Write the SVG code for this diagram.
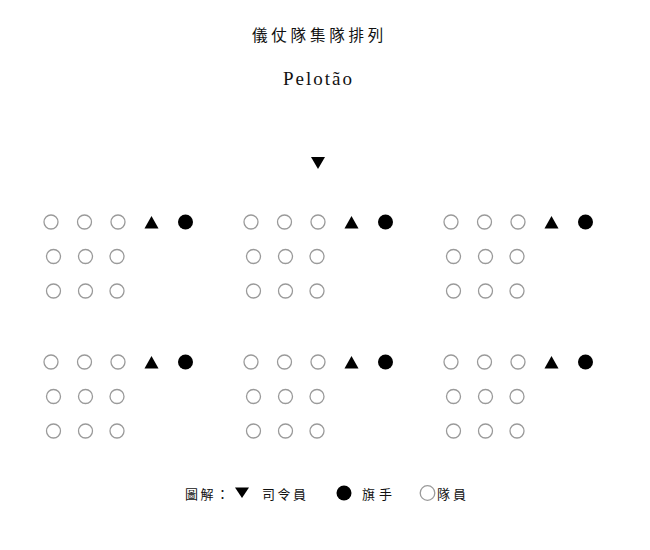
<svg xmlns="http://www.w3.org/2000/svg" xmlns:xlink="http://www.w3.org/1999/xlink" width="650" height="550" viewBox="0 0 650 550">
<style>
.m{fill:#fff;stroke:#9a9a9a;stroke-width:1.3}
.f{fill:#000}
.cjk{font-family:"Noto Sans CJK TC","Noto Sans CJK SC",sans-serif;fill:#111}
.lat{font-family:"Liberation Serif",serif;fill:#111}
</style>
<defs>
<g id="squad">
<circle class="m" cx="51" cy="222" r="7"/>
<circle class="m" cx="84.5" cy="222" r="7"/>
<circle class="m" cx="118" cy="222" r="7"/>
<polygon class="f" points="151.5,216 144.5,228.5 158.5,228.5"/>
<circle class="f" cx="185.5" cy="222" r="7.5"/>
<circle class="m" cx="53.5" cy="256.5" r="7"/>
<circle class="m" cx="85.5" cy="256.5" r="7"/>
<circle class="m" cx="117" cy="256.5" r="7"/>
<circle class="m" cx="53.5" cy="291" r="7"/>
<circle class="m" cx="85.5" cy="291" r="7"/>
<circle class="m" cx="117" cy="291" r="7"/>
</g>
</defs>
<rect width="650" height="550" fill="#fff"/>
<g id="title">
<text class="cjk" x="252" y="41" font-size="15.5" letter-spacing="3.8">儀仗隊集隊排列</text>
<text class="lat" x="283" y="85" font-size="19" letter-spacing="2">Pelotão</text>
</g>
<g id="commander">
<polygon class="f" points="311,157 325,157 318,169"/>
</g>
<g id="squad1"><use xlink:href="#squad"/></g>
<g id="squad2"><use xlink:href="#squad" transform="translate(200,0)"/></g>
<g id="squad3"><use xlink:href="#squad" transform="translate(400,0)"/></g>
<g id="squad4"><use xlink:href="#squad" transform="translate(0,140)"/></g>
<g id="squad5"><use xlink:href="#squad" transform="translate(200,140)"/></g>
<g id="squad6"><use xlink:href="#squad" transform="translate(400,140)"/></g>
<g id="legend">
<text class="cjk" x="185" y="499" font-size="13" letter-spacing="2.5">圖解：</text>
<polygon class="f" points="235,487.5 249,487.5 242,498"/>
<text class="cjk" x="262" y="499" font-size="13" letter-spacing="2.5">司令員</text>
<circle class="f" cx="344" cy="493" r="7.5"/>
<text class="cjk" x="362" y="499" font-size="13" letter-spacing="4">旗手</text>
<circle class="m" cx="427.5" cy="493" r="7.3"/>
<text class="cjk" x="437" y="499" font-size="13" letter-spacing="3">隊員</text>
</g>
</svg>
